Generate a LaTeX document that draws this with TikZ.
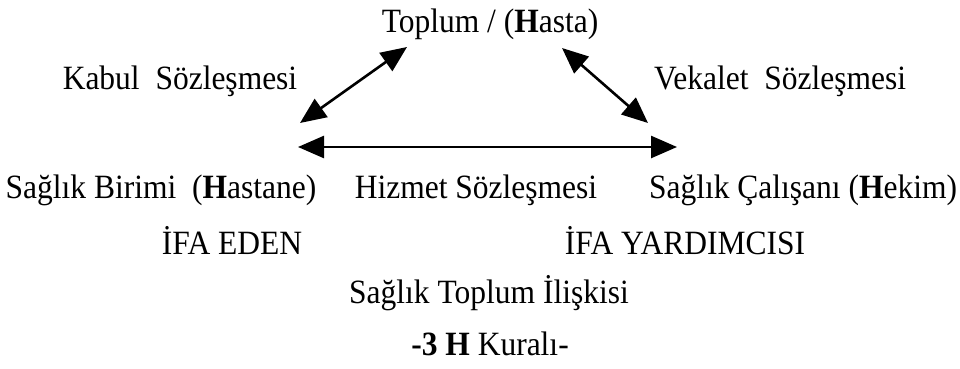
\documentclass[tikz,border=0pt]{standalone}
\usepackage{fontspec}
\setmainfont{Liberation Serif}
\usetikzlibrary{arrows.meta}
% slightly taller lettering
\newcommand\talltext[1]{\scalebox{1}[1.08]{#1}}
\begin{document}
\begin{tikzpicture}[x=1pt,y=-1pt,
  lbl/.style={anchor=base,inner sep=0pt,font=\fontsize{31.5}{36}\selectfont},
  rel/.style={line width=2.6pt,{Triangle[length=26pt,width=22pt]}-{Triangle[length=26pt,width=22pt]}}]
  \useasboundingbox (0,0) rectangle (960,369);
  % texts
  \node[lbl] (toplum) at (490,33) {\talltext{Toplum / (\textbf{H}asta)}};
  \node[lbl] (kabul) at (180,89) {\talltext{Kabul\ \ Sözleşmesi}};
  \node[lbl] (vekalet) at (780,89) {\talltext{Vekalet\ \ Sözleşmesi}};
  \node[lbl] (birim) at (161,198) {\talltext{Sağlık Birimi\ \ (\textbf{H}astane)}};
  \node[lbl] (hizmet) at (476,198) {\talltext{Hizmet Sözleşmesi}};
  \node[lbl] (calisan) at (803,198) {\talltext{Sağlık Çalışanı (\textbf{H}ekim)}};
  \node[lbl] (eden) at (232,254) {\talltext{İFA EDEN}};
  \node[lbl] (yardimci) at (685,254) {\talltext{İFA YARDIMCISI}};
  \node[lbl] (iliski) at (489,303) {\talltext{Sağlık Toplum İlişkisi}};
  \node[lbl] (kural) at (490,355) {\talltext{\textbf{-3 H} Kuralı-}};
  % arrow ends
  \coordinate (la) at (300,123);
  \coordinate (lb) at (407,47);
  \coordinate (ra) at (562,48);
  \coordinate (rb) at (648,123);
  \coordinate (ha) at (298,147);
  \coordinate (hb) at (677,147);
  % relations
  \draw[rel] (la) -- (lb);
  \draw[rel] (ra) -- (rb);
  \draw[rel] (ha) -- (hb);
\end{tikzpicture}
\end{document}
